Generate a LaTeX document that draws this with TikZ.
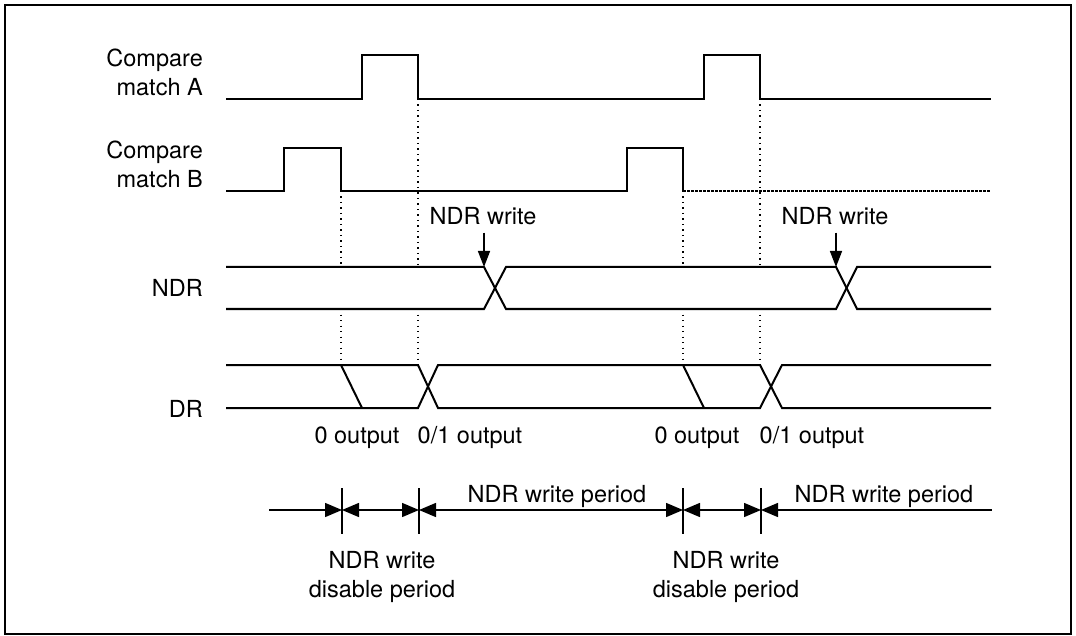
\documentclass[tikz,border=0pt]{standalone}
\usepackage{fontspec}
\setmainfont{TeX Gyre Heros}
\usetikzlibrary{arrows.meta}
\tikzset{mtip/.tip={Triangle[length=17pt,width=14pt]}}
\begin{document}
\begin{tikzpicture}[x=1pt,y=-1pt,
  sig/.style={line width=2pt, line join=miter},
  thinsig/.style={line width=1.3pt, dash pattern=on 3pt off 1pt},
  guide/.style={line width=1.3pt, dash pattern=on 1.3pt off 4.2pt},
  lbl/.style={font=\fontsize{23.5}{29}\selectfont, inner sep=0pt},
  wrarrow/.style={line width=1.5pt, -{Triangle[length=16pt,width=12pt]}},
  meas/.style={line width=1.5pt}]
\useasboundingbox (0,0) rectangle (1076,636);
\draw[line width=1.8pt] (5,5) rectangle (1071,634);

% labels left
\node[lbl, anchor=base east, align=right] (lA) at (203,96) {Compare\\match A};
\node[lbl, anchor=base east, align=right] (lB) at (203,188) {Compare\\match B};
\node[lbl, anchor=base east] (lNDR) at (203,297) {NDR};
\node[lbl, anchor=base east] (lDR) at (203,417) {DR};

% Compare match A
\draw[sig] (226,99) -- (362,99) -- (362,55) -- (418,55) -- (418,99) -- (704,99) -- (704,55) -- (760,55) -- (760,99) -- (991,99);
% Compare match B
\draw[sig] (226,191) -- (284,191) -- (284,148) -- (341,148) -- (341,191) -- (627,191) -- (627,148) -- (683,148) -- (683,191);
\draw[thinsig] (683,191) -- (991,191);

% NDR
\draw[sig] (226,267) -- (484,267) -- (506,309) -- (836,309) -- (857,267) -- (991,267);
\draw[sig] (226,309) -- (484,309) -- (506,267) -- (836,267) -- (857,309) -- (991,309);

% DR
\draw[sig] (226,365) -- (418,365) -- (438,408) -- (760,408) -- (782,365) -- (991,365);
\draw[sig] (226,408) -- (418,408) -- (438,365) -- (760,365) -- (782,408) -- (991,408);
\draw[sig] (341,365) -- (362,408);
\draw[sig] (683,365) -- (704,408);

% dotted guides
\foreach \x/\y in {341/191, 418/99, 683/191, 760/99} {
  \draw[guide] (\x,\y) -- (\x,267);
  \draw[guide] (\x,309) -- (\x,365);
}

% NDR write arrows
\node[lbl, anchor=base] (w1) at (483,225) {NDR write};
\node[lbl, anchor=base] (w2) at (835,225) {NDR write};
\coordinate (x1) at (484,267);
\coordinate (x2) at (836,267);
\draw[wrarrow] ([yshift=-7pt]w1.south -| x1) -- (x1);
\draw[wrarrow] ([yshift=-7pt]w2.south -| x2) -- (x2);

% output labels
\node[lbl, anchor=base] (o1) at (357,443) {0 output};
\node[lbl, anchor=base] (o2) at (470,443) {0/1 output};
\node[lbl, anchor=base] (o3) at (697,443) {0 output};
\node[lbl, anchor=base] (o4) at (812,443) {0/1 output};

% measurement line
\coordinate (m0) at (269,510);
\coordinate (k1) at (342,510);
\coordinate (k2) at (419,510);
\coordinate (k3) at (683,510);
\coordinate (k4) at (761,510);
\coordinate (m5) at (992,510);
\foreach \k in {k1,k2,k3,k4} {
  \draw[meas] ([yshift=22pt]\k) -- ([yshift=-24pt]\k);
}
\draw[meas, -mtip] (m0) -- (k1);
\draw[meas, mtip-mtip] (k1) -- (k2);
\draw[meas, mtip-mtip] (k2) -- (k3);
\draw[meas, mtip-mtip] (k3) -- (k4);
\draw[meas, mtip-] (k4) -- (m5);

\node[lbl, anchor=base] (p1) at (557,502) {NDR write period};
\node[lbl, anchor=base] (p2) at (884,502) {NDR write period};
\node[lbl, anchor=base, align=center] (d1) at (382,597) {NDR write\\disable period};
\node[lbl, anchor=base, align=center] (d2) at (726,597) {NDR write\\disable period};
\end{tikzpicture}
\end{document}
